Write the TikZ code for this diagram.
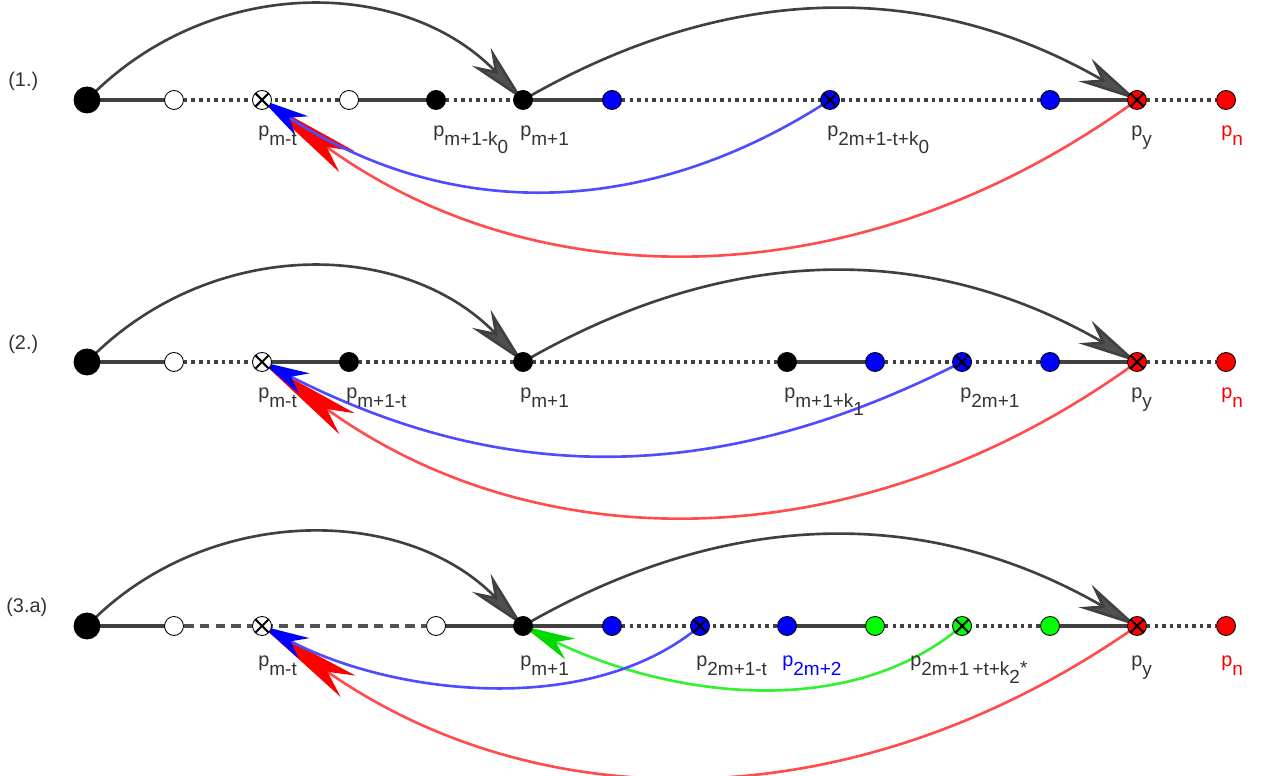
\documentclass[tikz,border=0pt]{standalone}
\usepackage{fontspec}
\setmainfont{Liberation Sans}
\usetikzlibrary{arrows.meta,backgrounds}
\definecolor{lgray}{HTML}{404040}
\definecolor{agray}{HTML}{505050}
\definecolor{lblue}{HTML}{4D4DFF}
\definecolor{lred}{HTML}{FF4D4D}
\definecolor{lgreen}{HTML}{33F033}
\definecolor{nblue}{HTML}{0000FF}
\definecolor{nred}{HTML}{FF0000}
\definecolor{ngreen}{HTML}{00FF00}
\definecolor{txt}{HTML}{333333}
\newcommand\pp[1]{p\raisebox{-0.45em}{\fontsize{10.8pt}{12pt}\selectfont #1}}
\newcommand\kk[1]{k\raisebox{-0.4em}{#1}}
\tikzset{
  pt/.style={circle, draw=black, line width=0.5pt, inner sep=0pt, minimum size=0.38cm},
  bigpt/.style={pt, fill=black, minimum size=0.52cm},
  blk/.style={pt, fill=black},
  wht/.style={pt, fill=white},
  bl/.style={pt, fill=nblue},
  rd/.style={pt, fill=nred},
  gr/.style={pt, fill=ngreen},
  xed/.style={path picture={\draw[line width=1.2pt, black]
     (path picture bounding box.north west) -- (path picture bounding box.south east)
     (path picture bounding box.south west) -- (path picture bounding box.north east);}},
  seg/.style={line width=2pt, draw=lgray},
  dots/.style={line width=2pt, draw=lgray, dash pattern=on 2pt off 2.3pt},
  dsh/.style={line width=2pt, draw=lgray!90!white, dash pattern=on 5.5pt off 3.5pt},
  garc/.style={line width=1.5pt, draw=lgray, -{Stealth[length=1.2cm, width=0.52cm, inset=0.38cm, fill=agray, color=lgray]}},
  barc/.style={line width=1.5pt, draw=lblue, -{Stealth[length=0.95cm, width=0.46cm, inset=0.3cm, fill=nblue, color=nblue]}},
  rarc/.style={line width=1.5pt, draw=lred, -{Stealth[length=2.1cm, width=0.52cm, inset=0.5cm, fill=nred, color=nred]}},
  grarc/.style={line width=1.5pt, draw=lgreen, -{Stealth[length=1.05cm, width=0.46cm, inset=0.32cm, fill=ngreen!85!black, color=ngreen!85!black]}},
  lab/.style={anchor=base west, inner sep=0pt, text=txt, font=\fontsize{11.3pt}{13pt}\selectfont},
  rowlab/.style={anchor=west, inner sep=0pt, text=txt, font=\fontsize{11.3pt}{13pt}\selectfont}
}
\begin{document}
\begin{tikzpicture}[x=0.02cm, y=0.02cm]
\useasboundingbox (0,0) rectangle (1263,776);
% ---------- Row 1 ----------
\node[rowlab] (r1) at (8,695) {(1.)};
\node[bigpt] (a1) at (87,676) {};
\node[wht] (b1) at (174,676) {};
\node[wht,xed] (c1) at (262,676) {};
\node[wht] (d1) at (349,676) {};
\node[blk] (e1) at (436,676) {};
\node[blk] (f1) at (523,676) {};
\node[bl] (g1) at (612,676) {};
\node[bl,xed] (h1) at (830,676) {};
\node[bl] (i1) at (1050,676) {};
\node[rd,xed] (j1) at (1137,676) {};
\node[rd] (k1) at (1226,676) {};
\node[lab] (l1a) at (258,639) {\pp{m-t}};
\node[lab] (l1b) at (433,639) {\pp{m+1-\kk{0}}};
\node[lab] (l1c) at (520,639) {\pp{m+1}};
\node[lab] (l1d) at (827,639) {\pp{2m+1-t+\kk{0}}};
\node[lab] (l1e) at (1131,639) {\pp{y}};
\node[lab, text=nred] (l1f) at (1221,639) {\pp{n}};
% ---------- Row 2 ----------
\node[rowlab] (r2) at (8,432) {(2.)};
\node[bigpt] (a2) at (87,414) {};
\node[wht] (b2) at (174,414) {};
\node[wht,xed] (c2) at (262,414) {};
\node[blk] (d2) at (349,414) {};
\node[blk] (f2) at (523,414) {};
\node[blk] (m2) at (787,414) {};
\node[bl] (n2) at (875,414) {};
\node[bl,xed] (h2) at (962,414) {};
\node[bl] (i2) at (1050,414) {};
\node[rd,xed] (j2) at (1137,414) {};
\node[rd] (k2) at (1226,414) {};
\node[lab] (l2a) at (258,377) {\pp{m-t}};
\node[lab] (l2b) at (346,377) {\pp{m+1-t}};
\node[lab] (l2c) at (520,377) {\pp{m+1}};
\node[lab] (l2d) at (784,377) {\pp{m+1+\kk{1}}};
\node[lab] (l2e) at (960,377) {\pp{2m+1}};
\node[lab] (l2f) at (1131,377) {\pp{y}};
\node[lab, text=nred] (l2g) at (1221,377) {\pp{n}};
% ---------- Row 3 ----------
\node[rowlab] (r3) at (6,169) {(3.a)};
\node[bigpt] (a3) at (87,150) {};
\node[wht] (b3) at (174,150) {};
\node[wht,xed] (c3) at (262,150) {};
\node[wht] (e3) at (436,150) {};
\node[blk] (f3) at (523,150) {};
\node[bl] (g3) at (612,150) {};
\node[bl,xed] (h3) at (700,150) {};
\node[bl] (m3) at (787,150) {};
\node[gr] (n3) at (875,150) {};
\node[gr,xed] (o3) at (962,150) {};
\node[gr] (i3) at (1050,150) {};
\node[rd,xed] (j3) at (1137,150) {};
\node[rd] (k3) at (1226,150) {};
\node[lab] (l3a) at (258,109) {\pp{m-t}};
\node[lab] (l3b) at (520,109) {\pp{m+1}};
\node[lab] (l3c) at (696,109) {\pp{2m+1-t}};
\node[lab, text=nblue] (l3d) at (782,109) {\pp{2m+2}};
\node[lab] (l3e) at (910,109) {\pp{2m+1\,+t+k\raisebox{-0.4em}{2}\raisebox{0.1em}{*}}};
\node[lab] (l3f) at (1131,109) {\pp{y}};
\node[lab, text=nred] (l3g) at (1221,109) {\pp{n}};
% ---------- connectors ----------
\begin{scope}[on background layer]
% row 1 line
\draw[seg] (a1.center) -- (b1.center);
\draw[dots] (b1) -- (d1);
\draw[seg] (d1.center) -- (e1.center);
\draw[dots] (e1) -- (f1);
\draw[seg] (f1.center) -- (g1.center);
\draw[dots] (g1) -- (i1);
\draw[seg] (i1.center) -- (j1.center);
\draw[dots] (j1) -- (k1);
% row 2 line
\draw[seg] (a2.center) -- (b2.center);
\draw[dots] (b2) -- (c2);
\draw[seg] (c2.center) -- (d2.center);
\draw[dots] (d2) -- (m2);
\draw[seg] (m2.center) -- (n2.center);
\draw[dots] (n2) -- (i2);
\draw[seg] (i2.center) -- (j2.center);
\draw[dots] (j2) -- (k2);
% row 3 line
\draw[seg] (a3.center) -- (b3.center);
\draw[dsh] (b3) -- (e3);
\draw[seg] (e3.center) -- (g3.center);
\draw[dots] (g3) -- (m3);
\draw[seg] (m3.center) -- (n3.center);
\draw[dots] (n3) -- (i3);
\draw[seg] (i3.center) -- (j3.center);
\draw[dots] (j3) -- (k3);
% upper arcs
\draw[garc] (a1.center) to[out=46,in=134,looseness=1.02] (f1.center);
\draw[garc] (f1.center) to[out=30,in=150] (j1.center);
\draw[garc] (a2.center) to[out=46,in=134,looseness=1.02] (f2.center);
\draw[garc] (f2.center) to[out=30,in=150] (j2.center);
\draw[garc] (a3.center) to[out=46,in=134,looseness=1.0] (f3.center);
\draw[garc] (f3.center) to[out=30,in=150] (j3.center);
% lower arcs
\draw[rarc] (j1.center) to[out=-144,in=-36] (c1.center);
\draw[barc] (h1.center) to[out=-147,in=-33] (c1.center);
\draw[rarc] (j2.center) to[out=-144,in=-36] (c2.center);
\draw[barc] (h2.center) to[out=-153,in=-27] (c2.center);
\draw[rarc] (j3.center) to[out=-145,in=-35] (c3.center);
\draw[grarc] (o3.center) to[out=-140,in=-26,looseness=0.9] (f3.center);
\draw[barc] (h3.center) to[out=-140,in=-28,looseness=0.85] (c3.center);
\end{scope}
\end{tikzpicture}
\end{document}
